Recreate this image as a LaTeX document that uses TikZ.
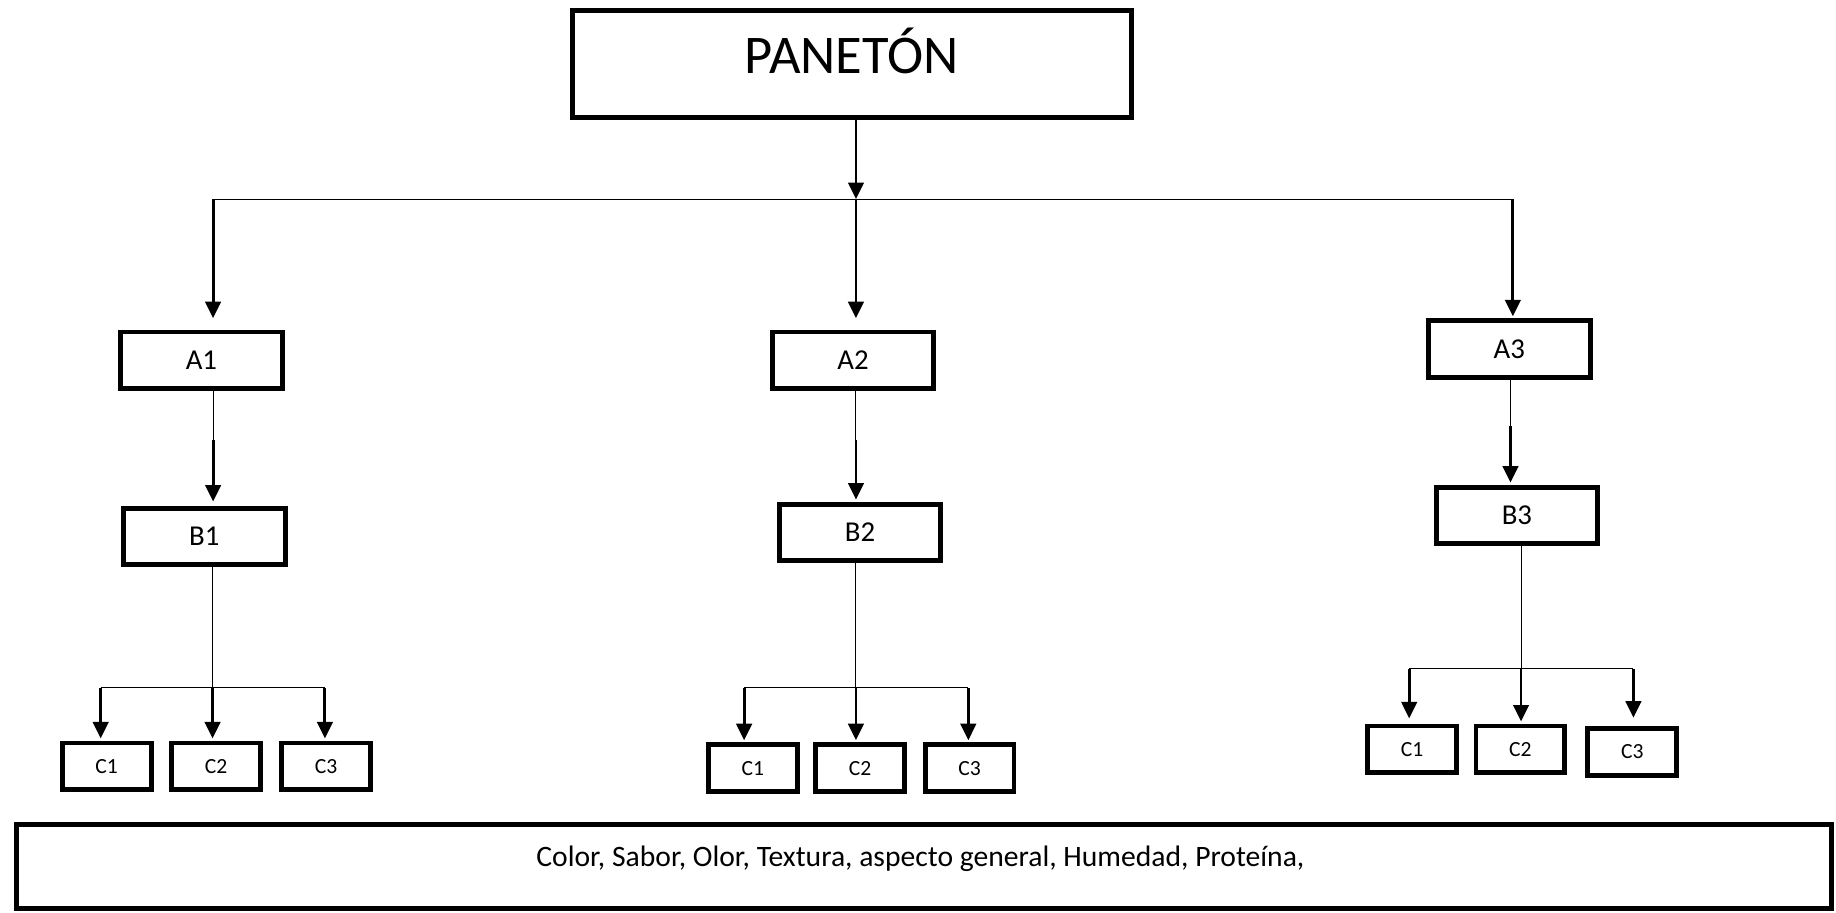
\documentclass[tikz,border=0pt]{standalone}
\usepackage{fontspec}
\setmainfont{Carlito}
\usetikzlibrary{arrows.meta}

\tikzset{
  caja/.style={draw, line width=2.4pt, inner sep=0pt, minimum width=2.76cm,
    minimum height=0.96cm, font=\fontsize{14}{17}\selectfont},
  cajita/.style={caja, minimum width=1.52cm, minimum height=0.8cm,
    font=\fontsize{10.5}{12}\selectfont},
  flecha/.style={line width=1.4pt, -{Triangle[width=7.5pt,length=8pt]}},
  linea/.style={line width=0.5pt}
}

\begin{document}
\begin{tikzpicture}[x=0.02cm, y=-0.02cm]
  \useasboundingbox (0,0) rectangle (1568,779);

  \node[caja, minimum width=9.54cm, minimum height=1.82cm, text height=18pt, text depth=9pt,
        font=\fontsize{26.5}{30}\selectfont] (panet) at (727.5,54.5) {PANETÓN};

  \node[caja] (a1) at (172,307.5) {A1};
  \node[caja] (a2) at (728.5,307.5) {A2};
  \node[caja] (a3) at (1289,298) {A3};

  \node[caja] (b1) at (174.5,458) {B1};
  \node[caja] (b2) at (734.5,454.5) {B2};
  \node[caja] (b3) at (1295.5,440) {B3};

  \node[cajita] (c11) at (91,654.5) {C1};
  \node[cajita] (c12) at (184.5,654.5) {C2};
  \node[cajita] (c13) at (278.5,654.5) {C3};
  \node[cajita] (c21) at (643,656) {C1};
  \node[cajita] (c22) at (734.5,656) {C2};
  \node[cajita] (c23) at (828,656) {C3};
  \node[cajita] (c31) at (1206,640) {C1};
  \node[cajita] (c32) at (1298.5,640) {C2};
  \node[cajita] (c33) at (1394,642) {C3};

  % recuadro inferior
  \node[draw, line width=2.4pt, minimum width=31cm, minimum height=1.44cm] (lista) at (789,740) {};
  \node[font=\fontsize{14.4}{17}\selectfont] (listatxt) at (786,733)
    {Color, Sabor, Olor, Textura, aspecto general, Humedad, Proteína,};

  % primer nivel
  \coordinate (hub) at (731,170);
  \coordinate (izq) at (182,170);
  \coordinate (der) at (1292,170);
  \draw[flecha] (hub |- panet.south) -- (hub);
  \draw[linea] (izq) -- (der);
  \draw[flecha, shorten >=5.5pt] (izq) -- (izq |- a1.north);
  \draw[flecha, shorten >=5.5pt] (hub) -- (hub |- a2.north);
  \draw[flecha, shorten >=1pt] (der) -- (der |- a3.north);

  % A -> B
  \coordinate (m1) at (182,376);
  \coordinate (m2) at (731,376);
  \coordinate (m3) at (1290,364);
  \draw[linea] (m1 |- a1.south) -- (m1);
  \draw[linea] (m2 |- a2.south) -- (m2);
  \draw[linea] (m3 |- a3.south) -- (m3);
  \draw[flecha, shorten >=2pt] (m1) -- (m1 |- b1.north);
  \draw[flecha, shorten >=1pt] (m2) -- (m2 |- b2.north);
  \draw[flecha, shorten >=1pt] (m3) -- (m3 |- b3.north);

  % B -> C
  \coordinate (r1) at (181.5,587.5);
  \coordinate (r1i) at (86,587.5);
  \coordinate (r1d) at (277.5,587.5);
  \draw[linea] (r1 |- b1.south) -- (r1);
  \draw[linea] (r1i) -- (r1d);
  \draw[flecha, shorten >=1pt] (r1i) -- (r1i |- c11.north);
  \draw[flecha, shorten >=1pt] (r1) -- (r1 |- c12.north);
  \draw[flecha, shorten >=1pt] (r1d) -- (r1d |- c13.north);

  \coordinate (r2) at (731,587.5);
  \coordinate (r2i) at (635.5,587.5);
  \coordinate (r2d) at (827,587.5);
  \draw[linea] (r2 |- b2.south) -- (r2);
  \draw[linea] (r2i) -- (r2d);
  \draw[flecha, shorten >=1pt] (r2i) -- (r2i |- c21.north);
  \draw[flecha, shorten >=1pt] (r2) -- (r2 |- c22.north);
  \draw[flecha, shorten >=1pt] (r2d) -- (r2d |- c23.north);

  \coordinate (r3) at (1299,571);
  \coordinate (r3i) at (1203.5,571);
  \coordinate (r3d) at (1395,571);
  \draw[linea] (r3 |- b3.south) -- (r3);
  \draw[linea] (r3i) -- (r3d);
  \draw[flecha, shorten >=2.5pt] (r3i) -- (r3i |- c31.north);
  \draw[flecha, shorten >=1pt] (r3) -- (r3 |- c32.north);
  \draw[flecha, shorten >=4pt] (r3d) -- (r3d |- c33.north);
\end{tikzpicture}
\end{document}
